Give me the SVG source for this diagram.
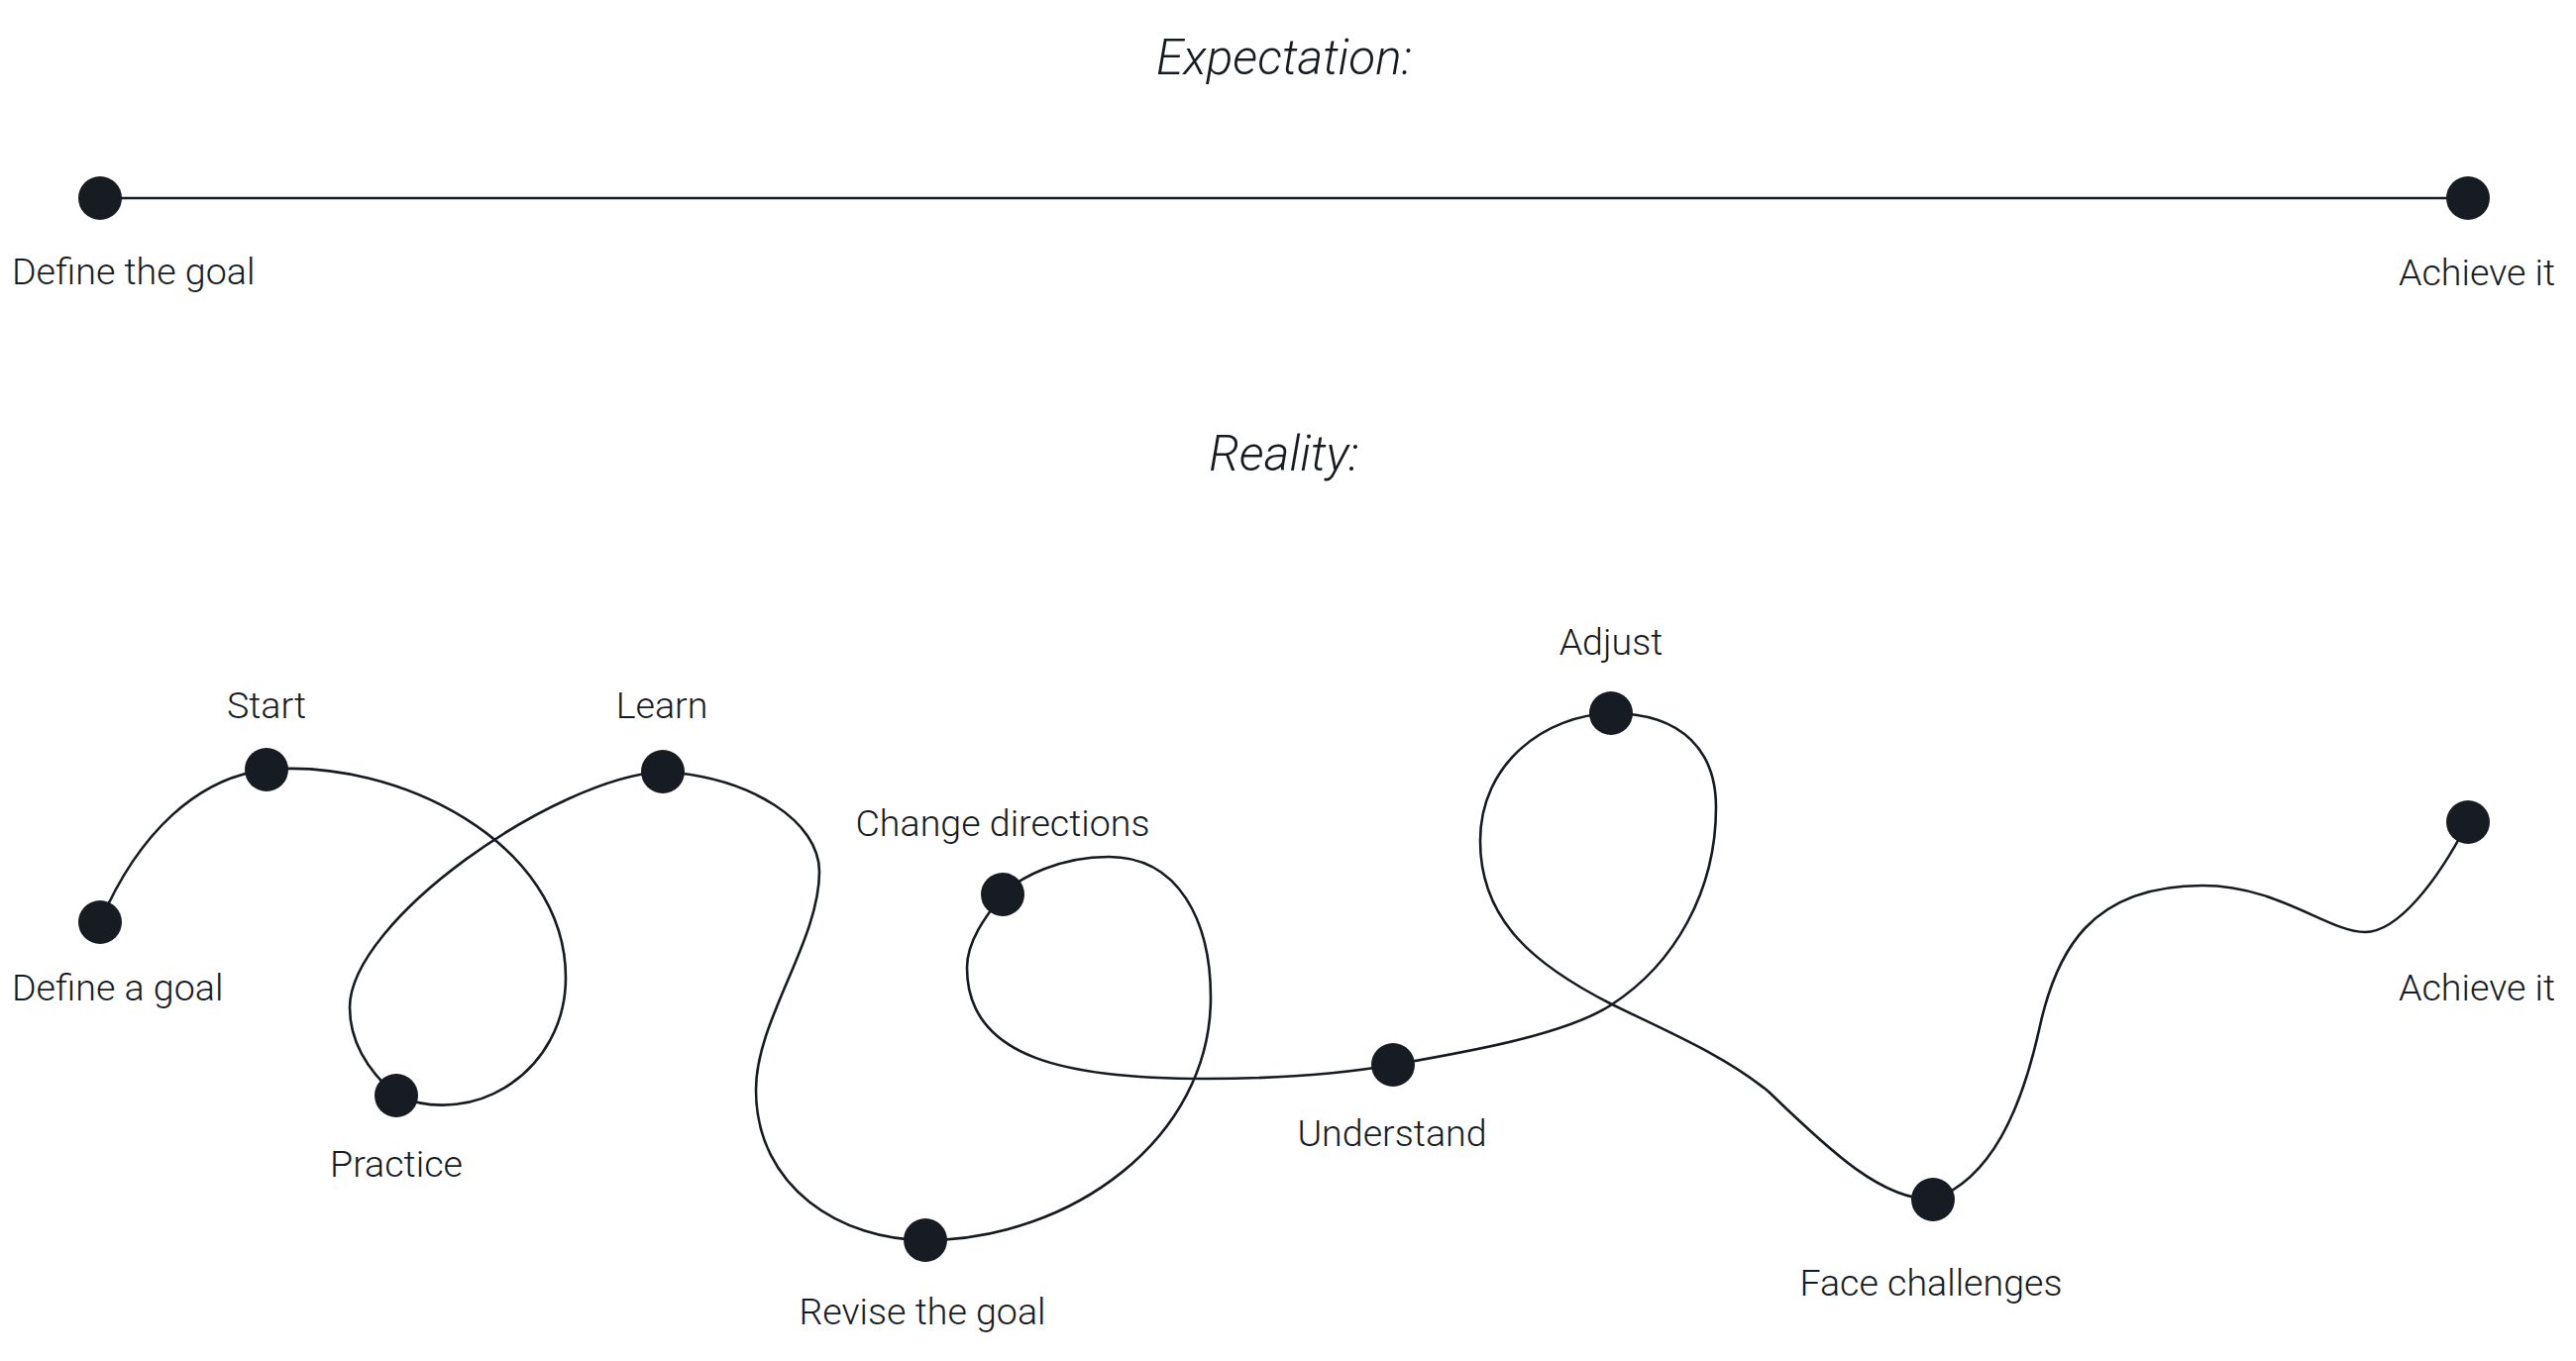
<svg xmlns="http://www.w3.org/2000/svg" width="2600" height="1374" viewBox="0 0 2600 1374">
<style>
.bg{fill:#ffffff}
.lbl{font-family:Roboto,"Liberation Sans",sans-serif;font-weight:300;font-size:37.6px;fill:#161b22}
.ttl{font-family:Roboto,"Liberation Sans",sans-serif;font-weight:300;font-style:italic;font-size:49.5px;fill:#161b22;text-anchor:middle}
.mid{text-anchor:middle}
.dot{fill:#171c22}
.ln{fill:none;stroke:#161b22;stroke-width:2.6;stroke-linecap:round;stroke-linejoin:round}
</style>
<rect class="bg" x="0" y="0" width="2600" height="1374"/>
<text class="ttl" x="1296" y="75">Expectation:</text>
<text class="ttl" x="1296" y="475">Reality:</text>
<g id="connectors">
<path class="ln" d="M101,200 L2491,200"/>
<path class="ln" d="M101,931 C140,840 200,785 269,777 C400,765 571,850 571,987 C571,1080 480,1140 400,1106 C370,1080 353,1050 353,1017 C353,930 560,785 669,779 C760,785 827,830 827,880 C827,950 763,1030 763,1100 C763,1200 850,1252 934,1252 C1080,1252 1222,1150 1222,1007 C1222,930 1190,865 1119,865 C1070,865 1030,885 1012,903 C995,925 976,950 976,977 C976,1070 1080,1089 1217,1089 C1300,1089 1360,1083 1406,1075 C1480,1062 1580,1045 1627,1014 C1690,973 1732,900 1732,815 C1732,760 1700,720 1626,720 C1560,722 1494,770 1494,849 C1494,930 1550,975 1627,1014 C1680,1040 1740,1065 1785,1102 C1850,1165 1900,1211 1951,1211 C2010,1190 2040,1120 2058,1040 C2075,960 2110,894 2223,894 C2300,894 2350,941 2387,941 C2420,941 2460,890 2491,830"/>
</g>
<g id="exp-define"><circle class="dot" cx="101" cy="200" r="22"/><text class="lbl" x="12" y="287">Define the goal</text></g>
<g id="exp-achieve"><circle class="dot" cx="2491" cy="200" r="22"/><text class="lbl" x="2421" y="288">Achieve it</text></g>
<g id="define-a-goal"><circle class="dot" cx="101" cy="931" r="22"/><text class="lbl" x="12" y="1010">Define a goal</text></g>
<g id="start"><circle class="dot" cx="269" cy="777" r="22"/><text class="lbl mid" x="269" y="725">Start</text></g>
<g id="practice"><circle class="dot" cx="400" cy="1106" r="22"/><text class="lbl mid" x="400" y="1188">Practice</text></g>
<g id="learn"><circle class="dot" cx="669" cy="779" r="22"/><text class="lbl mid" x="668" y="725">Learn</text></g>
<g id="revise"><circle class="dot" cx="934" cy="1252" r="22"/><text class="lbl mid" x="931" y="1337">Revise the goal</text></g>
<g id="change"><circle class="dot" cx="1012" cy="903" r="22"/><text class="lbl mid" x="1012" y="844">Change directions</text></g>
<g id="understand"><circle class="dot" cx="1406" cy="1075" r="22"/><text class="lbl mid" x="1405" y="1157">Understand</text></g>
<g id="adjust"><circle class="dot" cx="1626" cy="720" r="22"/><text class="lbl mid" x="1626" y="661">Adjust</text></g>
<g id="face"><circle class="dot" cx="1951" cy="1211" r="22"/><text class="lbl mid" x="1949" y="1308">Face challenges</text></g>
<g id="achieve"><circle class="dot" cx="2491" cy="830" r="22"/><text class="lbl" x="2421" y="1010">Achieve it</text></g>
</svg>
